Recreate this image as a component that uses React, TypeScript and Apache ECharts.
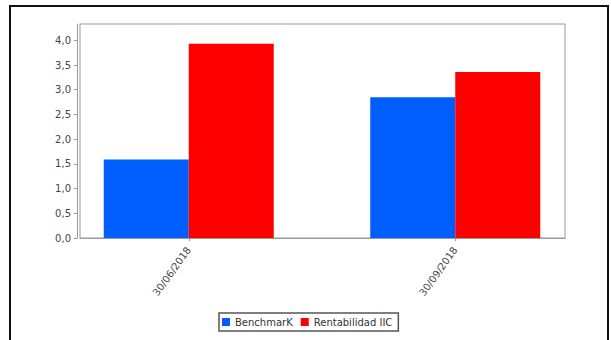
import React, { useEffect, useRef } from "react";
import * as echarts from "echarts";

const categories = ["30/06/2018", "30/09/2018"];
const benchmark = [1.59, 2.85];
const rentabilidad = [3.93, 3.36];
const yTicks = [0, 0.5, 1, 1.5, 2, 2.5, 3, 3.5, 4];
const seriesNames = ["BenchmarK", "Rentabilidad IIC"];

const FONT = "DejaVu Sans";

export default function App() {
  const ref = useRef<HTMLDivElement>(null);
  useEffect(() => {
    if (!ref.current) return;
    const chart = echarts.init(ref.current, null, { renderer: "svg" });
    const yMax = 4.33;
    chart.setOption({
      animation: false,
      backgroundColor: "#ffffff",
      graphic: [
        {
          type: "rect",
          shape: { x: 10, y: 6, width: 598, height: 400 },
          style: { fill: "none", stroke: "#111", lineWidth: 2 },
          silent: true,
        },
      ],
      grid: [
        {
          left: 80,
          top: 24,
          width: 485,
          height: 214,
          show: true,
          borderColor: "#999",
          borderWidth: 1,
          backgroundColor: "#fff",
          containLabel: false,
        },
        {
          left: 55.5,
          top: 24,
          width: 533,
          height: 214,
          containLabel: false,
        },
      ],
      xAxis: [
        {
          gridIndex: 0,
          type: "category",
          data: categories,
          offset: 4,
          axisLine: { show: true, lineStyle: { color: "#999", width: 1 } },
          axisTick: { show: false },
          axisLabel: { show: false },
          splitLine: { show: false },
        },
        {
          gridIndex: 1,
          type: "category",
          data: categories,
          offset: 4,
          axisLine: { show: false },
          axisTick: {
            show: true,
            alignWithLabel: true,
            length: 3,
            lineStyle: { color: "#999" },
          },
          axisLabel: {
            rotate: 54,
            margin: 6,
            color: "#444",
            fontFamily: FONT,
            fontSize: 10,
          },
          splitLine: { show: false },
        },
      ],
      yAxis: [
        {
          gridIndex: 0,
          type: "value",
          min: 0,
          max: yMax,
          offset: 3,
          axisLine: { show: true, lineStyle: { color: "#999", width: 1 } },
          axisTick: {
            show: true,
            length: 3,
            lineStyle: { color: "#999" },
            customValues: yTicks,
          },
          axisLabel: {
            customValues: yTicks,
            margin: 6,
            color: "#444",
            fontFamily: FONT,
            fontSize: 10,
            formatter: (v: number) => v.toFixed(1).replace(".", ","),
          },
          splitLine: { show: false },
        },
        {
          gridIndex: 1,
          type: "value",
          min: 0,
          max: yMax,
          show: false,
          splitLine: { show: false },
        },
      ],
      legend: {
        data: seriesNames,
        left: 219,
        top: 313,
        orient: "horizontal",
        icon: "rect",
        itemWidth: 8,
        itemHeight: 8,
        itemGap: 8,
        padding: [4, 6, 4, 3],
        borderColor: "#555",
        borderWidth: 1.5,
        textStyle: { fontFamily: FONT, fontSize: 10, color: "#333" },
      },
      series: [
        {
          name: seriesNames[0],
          type: "bar",
          xAxisIndex: 1,
          yAxisIndex: 1,
          data: benchmark,
          barWidth: 85,
          barGap: "0%",
          itemStyle: { color: "#005EFF" },
        },
        {
          name: seriesNames[1],
          type: "bar",
          xAxisIndex: 1,
          yAxisIndex: 1,
          data: rentabilidad,
          barWidth: 85,
          barGap: "0%",
          itemStyle: { color: "#FF0000" },
        },
      ],
    });
    return () => chart.dispose();
  }, []);
  return (
    <div
      ref={ref}
      style={{ position: "fixed", left: 0, top: 0, width: 611, height: 340 }}
    />
  );
}
